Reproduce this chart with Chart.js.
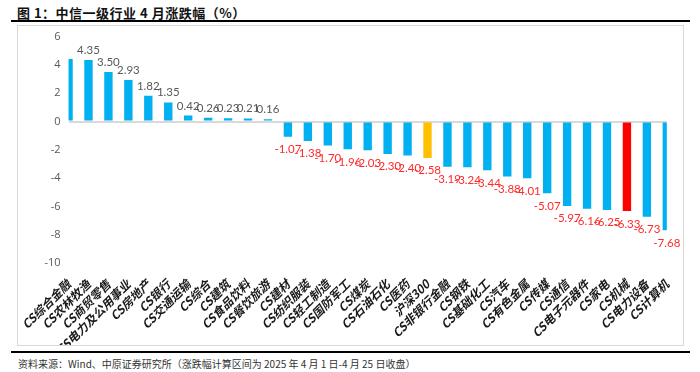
<!DOCTYPE html>
<html>
<head>
<meta charset="utf-8">
<script src="https://cdn.jsdelivr.net/npm/chart.js@4.4.1/dist/chart.umd.min.js"></script>
<style>
    html, body { margin: 0; padding: 0; background: #fff; }
    body { width: 700px; height: 372px; position: relative; overflow: hidden; font-family: 'Noto Sans CJK SC', sans-serif; }
    .title { position: absolute; left: 17px; top: 3px; font-size: 13px; font-weight: bold; color: #111; letter-spacing: 0.5px; }
    .rule { position: absolute; left: 11px; width: 679px; height: 2px; background: #000; }
    .box { position: absolute; left: 17px; top: 25px; width: 667px; height: 321px; border: 1px solid #d9d9d9; box-sizing: border-box; overflow: hidden; }
    .box canvas { position: absolute; left: 0; top: -4px; }
    .source { position: absolute; left: 18px; top: 356px; font-size: 10px; color: #333; }
</style>
</head>
<body>
<div class="title">图 1：中信一级行业 4 月涨跌幅（%）</div>
<div class="rule" style="top:20px"></div>
<div class="box"><canvas id="industryChart" width="665" height="323"></canvas></div>
<div class="rule" style="top:351px"></div>
<div class="source">资料来源：Wind、中原证券研究所（涨跌幅计算区间为 2025 年 4 月 1 日-4 月 25 日收盘）</div>

<script>
// 行业名称
const industries = [
    'CS综合金融', 'CS农林牧渔', 'CS商贸零售', 'CS电力及公用事业', 'CS房地产', 'CS银行',
    'CS交通运输', 'CS综合', 'CS建筑', 'CS食品饮料', 'CS餐饮旅游', 'CS建材',
    'CS纺织服装', 'CS轻工制造', 'CS国防军工', 'CS煤炭', 'CS石油石化', 'CS医药',
    '沪深300', 'CS非银行金融', 'CS钢铁', 'CS基础化工', 'CS汽车', 'CS有色金属',
    'CS传媒', 'CS通信', 'CS电子元器件', 'CS家电', 'CS机械', 'CS电力设备', 'CS计算机'
];

// 4月涨跌幅 (%)
const changes = [
    4.42, 4.35, 3.50, 2.93, 1.82, 1.35,
    0.42, 0.26, 0.23, 0.21, 0.16, -1.07,
    -1.38, -1.70, -1.96, -2.03, -2.30, -2.40,
    -2.58, -3.19, -3.24, -3.44, -3.88, -4.01,
    -5.07, -5.97, -6.16, -6.25, -6.33, -6.73, -7.68
];

// 标签未显示的柱
const hiddenLabels = ['CS综合金融'];

// 特别着色
const highlight = { '沪深300': '#ffc000', 'CS机械': '#ff0000' };
const baseColor = '#00b0f0';

const yTicks = [6, 4, 2, 0, -2, -4, -6, -8, -10];

const valueLabels = {
    id: 'valueLabels',
    afterDatasetsDraw(chart) {
        const ctx = chart.ctx;
        const meta = chart.getDatasetMeta(0);
        ctx.save();
        ctx.font = "11.5px Lato, sans-serif";
        ctx.textAlign = 'center';
        meta.data.forEach((bar, i) => {
            if (hiddenLabels.includes(industries[i])) return;
            const v = changes[i];
            if (v >= 0) {
                ctx.fillStyle = '#595959';
                ctx.textBaseline = 'bottom';
                ctx.fillText(v.toFixed(2), bar.x, bar.y - 4);
            } else {
                ctx.fillStyle = '#ff2a2a';
                ctx.textBaseline = 'top';
                ctx.fillText(v.toFixed(2), bar.x, bar.y + 7);
            }
        });
        ctx.restore();
    }
};

new Chart(document.getElementById('industryChart'), {
    type: 'bar',
    data: {
        labels: industries,
        datasets: [{
            data: changes,
            backgroundColor: industries.map(n => highlight[n] || baseColor),
            borderWidth: 0,
            barPercentage: 0.42,
            categoryPercentage: 1
        }]
    },
    options: {
        responsive: false,
        animation: false,
        layout: { padding: { top: 7, right: 10, left: 0, bottom: 0 } },
        plugins: {
            legend: { display: false },
            tooltip: { enabled: false }
        },
        scales: {
            x: {
                offset: false,
                afterFit: (s) => { s.height = 82; },
                grid: { display: false },
                border: { display: false },
                ticks: {
                    autoSkip: false,
                    maxRotation: 45,
                    minRotation: 45,
                    padding: 6,
                    color: '#1a1a1a',
                    font: { size: 12, weight: 'bold', style: 'italic', family: "'Noto Sans CJK SC', sans-serif" }
                }
            },
            y: {
                min: -10,
                max: 6,
                afterFit: (s) => { s.width = 44; },
                afterBuildTicks: (s) => { s.ticks = yTicks.map(v => ({ value: v })); },
                border: { display: false },
                grid: {
                    drawTicks: false,
                    lineWidth: 2,
                    color: (c) => c.tick && c.tick.value === 0 ? '#d9d9d9' : 'rgba(0,0,0,0)'
                },
                ticks: {
                    padding: 8,
                    color: '#595959',
                    font: { size: 11, family: "'Open Sans', sans-serif" }
                }
            }
        }
    },
    plugins: [valueLabels]
});
</script>
</body>
</html>
